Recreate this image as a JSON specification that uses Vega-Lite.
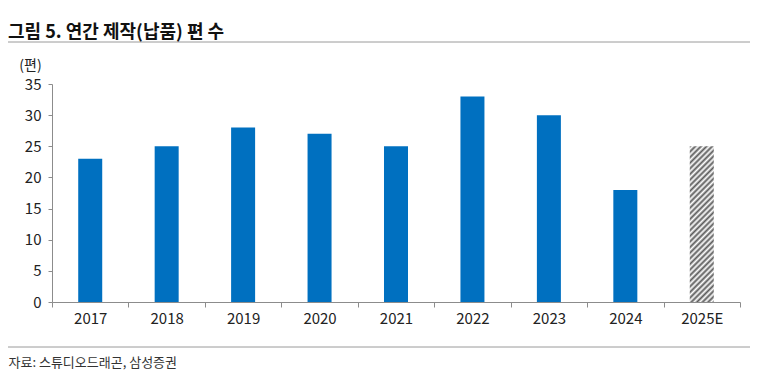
{
  "$schema": "https://vega.github.io/schema/vega-lite/v6.json",
  "width": 688,
  "height": 218,
  "autosize": "none",
  "padding": {"left": 52, "top": 84, "right": 33, "bottom": 83},
  "background": "white",
  "config": {"font": "Noto Sans CJK KR", "view": {"stroke": null}},
  "title": {"text": "그림 5.  연간 제작(납품) 편 수", "anchor": "start", "frame": "group", "dx": -44, "fontSize": 18, "fontWeight": "bold", "color": "#111111", "offset": 0},
  "data": {"values": [
    {"year": "2017", "count": 23, "type": "actual"},
    {"year": "2018", "count": 25, "type": "actual"},
    {"year": "2019", "count": 28, "type": "actual"},
    {"year": "2020", "count": 27, "type": "actual"},
    {"year": "2021", "count": 25, "type": "actual"},
    {"year": "2022", "count": 33, "type": "actual"},
    {"year": "2023", "count": 30, "type": "actual"},
    {"year": "2024", "count": 18, "type": "actual"},
    {"year": "2025E", "count": 25, "type": "estimate"}
  ]},
  "encoding": {
    "x": {"field": "year", "type": "nominal",
      "scale": {"domain": ["2017","2018","2019","2020","2021","2022","2023","2024","2025E"], "paddingInner": 0, "paddingOuter": 0},
      "axis": {"title": "자료: 스튜디오드래곤, 삼성증권", "titleX": -44, "titleY": 64, "titleAlign": "left", "titleAnchor": "start", "titleBaseline": "alphabetic", "titleFontSize": 13, "titleFontWeight": "normal", "titleColor": "#333333",
        "labelAngle": 0, "labelFontSize": 15, "labelColor": "#222222", "labelPadding": 4, "tickBand": "extent", "tickSize": 5, "tickColor": "#8c8c8c", "domainColor": "#8c8c8c", "grid": false}},
    "y": {"field": "count", "type": "quantitative",
      "scale": {"domain": [0, 35], "nice": false},
      "axis": {"title": "(편)", "titleAngle": 0, "titleX": -22, "titleY": -15, "titleAlign": "center", "titleBaseline": "alphabetic", "titleFontSize": 14, "titleFontWeight": "normal", "titleColor": "#222222",
        "values": [0,5,10,15,20,25,30,35], "labelOverlap": false, "labelFontSize": 15, "labelColor": "#222222", "labelPadding": 7, "tickSize": 4, "tickColor": "#8c8c8c", "domainColor": "#8c8c8c", "grid": false}}
  },
  "layer": [
    {
      "transform": [{"filter": "datum.type == 'actual'"}],
      "mark": {"type": "bar", "fill": "#0070C0", "width": {"band": 0.314}}
    },
    {
      "transform": [{"filter": "datum.type == 'estimate'"}],
      "mark": {"type": "bar", "width": {"band": 0.314}, "stroke": null,
        "fill": {"gradient": "linear", "x1": 0, "y1": 0, "x2": 0.174, "y2": 1.128, "stops": [
          {"offset":0,"color":"#5a5a5a"},{"offset":0.015625,"color":"#ffffff"},{"offset":0.03125,"color":"#5a5a5a"},{"offset":0.046875,"color":"#ffffff"},
          {"offset":0.0625,"color":"#5a5a5a"},{"offset":0.078125,"color":"#ffffff"},{"offset":0.09375,"color":"#5a5a5a"},{"offset":0.109375,"color":"#ffffff"},
          {"offset":0.125,"color":"#5a5a5a"},{"offset":0.140625,"color":"#ffffff"},{"offset":0.15625,"color":"#5a5a5a"},{"offset":0.171875,"color":"#ffffff"},
          {"offset":0.1875,"color":"#5a5a5a"},{"offset":0.203125,"color":"#ffffff"},{"offset":0.21875,"color":"#5a5a5a"},{"offset":0.234375,"color":"#ffffff"},
          {"offset":0.25,"color":"#5a5a5a"},{"offset":0.265625,"color":"#ffffff"},{"offset":0.28125,"color":"#5a5a5a"},{"offset":0.296875,"color":"#ffffff"},
          {"offset":0.3125,"color":"#5a5a5a"},{"offset":0.328125,"color":"#ffffff"},{"offset":0.34375,"color":"#5a5a5a"},{"offset":0.359375,"color":"#ffffff"},
          {"offset":0.375,"color":"#5a5a5a"},{"offset":0.390625,"color":"#ffffff"},{"offset":0.40625,"color":"#5a5a5a"},{"offset":0.421875,"color":"#ffffff"},
          {"offset":0.4375,"color":"#5a5a5a"},{"offset":0.453125,"color":"#ffffff"},{"offset":0.46875,"color":"#5a5a5a"},{"offset":0.484375,"color":"#ffffff"},
          {"offset":0.5,"color":"#5a5a5a"},{"offset":0.515625,"color":"#ffffff"},{"offset":0.53125,"color":"#5a5a5a"},{"offset":0.546875,"color":"#ffffff"},
          {"offset":0.5625,"color":"#5a5a5a"},{"offset":0.578125,"color":"#ffffff"},{"offset":0.59375,"color":"#5a5a5a"},{"offset":0.609375,"color":"#ffffff"},
          {"offset":0.625,"color":"#5a5a5a"},{"offset":0.640625,"color":"#ffffff"},{"offset":0.65625,"color":"#5a5a5a"},{"offset":0.671875,"color":"#ffffff"},
          {"offset":0.6875,"color":"#5a5a5a"},{"offset":0.703125,"color":"#ffffff"},{"offset":0.71875,"color":"#5a5a5a"},{"offset":0.734375,"color":"#ffffff"},
          {"offset":0.75,"color":"#5a5a5a"},{"offset":0.765625,"color":"#ffffff"},{"offset":0.78125,"color":"#5a5a5a"},{"offset":0.796875,"color":"#ffffff"},
          {"offset":0.8125,"color":"#5a5a5a"},{"offset":0.828125,"color":"#ffffff"},{"offset":0.84375,"color":"#5a5a5a"},{"offset":0.859375,"color":"#ffffff"},
          {"offset":0.875,"color":"#5a5a5a"},{"offset":0.890625,"color":"#ffffff"},{"offset":0.90625,"color":"#5a5a5a"},{"offset":0.921875,"color":"#ffffff"},
          {"offset":0.9375,"color":"#5a5a5a"},{"offset":0.953125,"color":"#ffffff"},{"offset":0.96875,"color":"#5a5a5a"},{"offset":0.984375,"color":"#ffffff"},
          {"offset":1,"color":"#5a5a5a"}
        ]}}
    },
    {
      "data": {"values": [{}]},
      "mark": {"type": "rule", "color": "#9a9a9a", "strokeWidth": 1},
      "encoding": {"x": {"value": -44}, "x2": {"value": 698}, "y": {"value": -42}}
    },
    {
      "data": {"values": [{}]},
      "mark": {"type": "rule", "color": "#9a9a9a", "strokeWidth": 1},
      "encoding": {"x": {"value": -44}, "x2": {"value": 698}, "y": {"value": 263}}
    }
  ]
}
